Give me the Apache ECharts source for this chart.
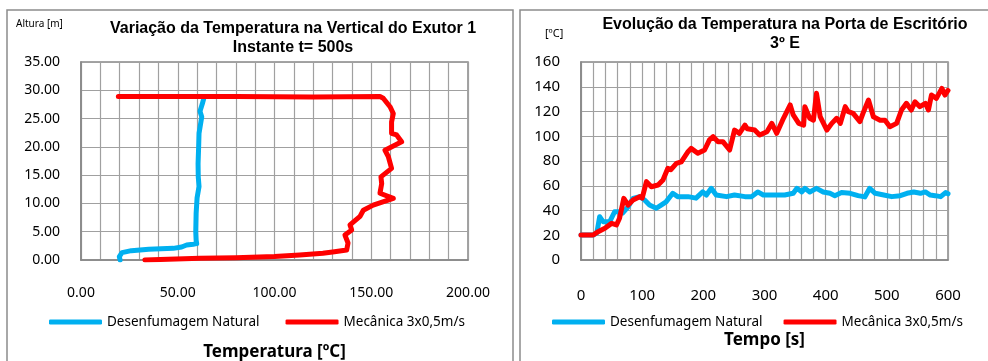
<!DOCTYPE html>
<html>
<head>
<meta charset="utf-8">
<script src="https://cdn.jsdelivr.net/npm/echarts@6/dist/echarts.min.js"></script>
<style>
  html, body { margin: 0; padding: 0; background: #fff; }
  #chart { width: 988px; height: 361px; }
</style>
</head>
<body>
<div id="chart"></div>
<script>
// Left chart: temperature profile along the height (t = 500s)
const naturalTemp = [20.2, 19.8, 21.2, 26, 35, 47.7, 52, 54.6, 58, 59.8, 59.5, 59.3, 59.5, 60, 61, 60.6, 60.5, 60.8, 61, 62.4, 61.5, 62.7, 63.7];
const naturalHeight = [0, 0.6, 1.3, 1.65, 1.9, 2.06, 2.3, 2.65, 2.8, 2.9, 3.5, 5, 8.3, 11, 13, 14.7, 17, 20, 22.4, 25.3, 26.3, 27.6, 28.9];
const mechTemp = [33, 45, 61.5, 80, 100, 113, 125, 131, 137.3, 138, 136.4, 139.9, 139, 144.2, 145.9, 151, 161.4, 154.5, 155.4, 155, 160.5, 158.8, 157.1, 165.7, 163.1, 160.5, 160.5, 161.4, 159.7, 156.2, 154.5, 120, 80, 40, 19.3];
const mechHeight = [0, 0.12, 0.3, 0.4, 0.6, 0.9, 1.2, 1.47, 1.77, 3.0, 4.4, 5.3, 6.2, 7.7, 8.8, 9.7, 10.9, 11.8, 13.5, 14.7, 16.2, 18.3, 19.4, 20.9, 22.1, 22.4, 24.4, 25.9, 27.1, 28.6, 28.9, 28.8, 28.9, 28.9, 28.9];

// Right chart: temperature at the office door over time
const naturalTime = [0, 20, 26, 30.5, 36, 47, 55, 60, 68, 77, 85, 96, 104, 112, 123, 131, 139, 150, 158, 175, 188, 199, 205, 213, 221, 238, 251, 268, 279, 289, 298, 314, 333, 347, 353, 361, 366, 374, 385, 396, 407, 415, 426, 440, 453, 464, 472, 481, 495, 508, 522, 533, 544, 555, 563, 571, 579, 588, 596, 600];
const naturalDoor = [20.2, 20.2, 22, 35, 31, 31, 39, 39, 38, 43, 49.8, 51.2, 48.5, 44.4, 41.8, 44.4, 47, 53.9, 51.2, 51.2, 50, 55, 52.5, 57.9, 52.5, 51.2, 52.5, 51.2, 51.2, 55, 52.5, 52.5, 52.5, 53.9, 57.9, 55, 57.9, 55, 57.9, 55, 53.9, 52, 54.5, 53.9, 52, 51, 57.9, 53.9, 52.5, 51.2, 52, 53.9, 55, 53.9, 55, 52.5, 52, 51.2, 54.5, 53.5];
const mechTime = [0, 20, 28, 39, 50, 58, 63, 70, 77, 85, 96, 100, 107, 115, 126, 134, 142, 147, 156, 164, 175, 180, 191, 202, 210, 216, 224, 232, 243, 251, 259, 268, 272, 284, 292, 304, 312, 320, 331, 342, 347, 356, 364, 366, 374, 380, 385, 391, 402, 410, 418, 424, 432, 437, 445, 456, 461, 470, 478, 489, 497, 505, 516, 524, 532, 540, 546, 554, 563, 568, 573, 581, 590, 595, 600];
const mechDoor = [20.2, 20.2, 22.9, 25.6, 29.6, 28.3, 33.7, 49.8, 44.4, 48.5, 51.2, 50, 63.3, 59.2, 60.6, 64.6, 74.1, 73, 78.1, 79.3, 87.5, 90.2, 86.2, 88.9, 97, 99.7, 95.6, 95.6, 88.9, 105, 102.3, 109, 106, 105, 101, 103.7, 110.4, 102.4, 114.5, 125.3, 117.2, 110.4, 109, 123.9, 114.5, 113, 134.7, 115.8, 105, 110.4, 114.5, 110.4, 123.9, 119.8, 118.5, 111.8, 118.5, 129.3, 115.8, 113, 113, 107.7, 110.4, 121.2, 126.6, 121.2, 127.9, 123.9, 126.6, 121.2, 133.3, 130.6, 138.7, 133.3, 137];

const seriesNames = ['Desenfumagem Natural', 'Mecânica 3x0,5m/s'];
const BLUE = '#00B0F0';
const RED = '#FF0000';
const GRID_LINE = '#a0a0a0';
const AXIS_LINE = '#868686';
const FONT = 'Noto Sans';

const zip = (xs, ys) => xs.map((x, i) => [x, ys[i]]);

function lineSeries(name, color, xi, yi, data) {
  return {
    name,
    type: 'line',
    xAxisIndex: xi,
    yAxisIndex: yi,
    data,
    symbol: 'none',
    color,
    lineStyle: { width: 5, color, cap: 'round', join: 'round' },
    z: 3,
  };
}

// gridlines every `step`, labels only every `labelStep`
function valueX(gridIndex, max, step, labelStep, fontSize, margin, decimals, name, nameGap) {
  return {
    type: 'value',
    gridIndex,
    min: 0, max, interval: step,
    name,
    nameLocation: 'middle',
    nameGap,
    nameTextStyle: { fontFamily: FONT, fontWeight: 'bold', fontSize: 17, color: '#000' },
    axisLine: { show: true, lineStyle: { color: AXIS_LINE, width: 1.5 } },
    axisTick: { show: false },
    axisLabel: {
      fontFamily: FONT, fontSize, color: '#000', margin,
      formatter: (v) => (Math.round(v) % labelStep === 0 ? v.toFixed(decimals) : ''),
    },
    splitLine: { show: true, lineStyle: { color: GRID_LINE, width: 1.2 } },
  };
}

function valueY(gridIndex, max, interval, fontSize, decimals) {
  return {
    type: 'value',
    gridIndex,
    min: 0, max, interval,
    axisLine: { show: true, lineStyle: { color: AXIS_LINE, width: 1.5 } },
    axisTick: { show: false },
    axisLabel: {
      fontFamily: FONT, fontSize, color: '#000', margin: 21,
      formatter: (v) => v.toFixed(decimals),
    },
    splitLine: { show: true, lineStyle: { color: GRID_LINE, width: 1.2 } },
  };
}

function legendAt(left, gap) {
  return {
    left, top: 315,
    padding: 0,
    data: seriesNames,
    icon: 'roundRect',
    itemWidth: 53,
    itemHeight: 5,
    itemGap: gap,
    textStyle: { fontFamily: FONT, fontSize: 13.5, color: '#000' },
  };
}

const titleStyle = { fontFamily: 'Liberation Sans', fontWeight: 'bold', fontSize: 16, lineHeight: 19, color: '#000' };

const chart = echarts.init(document.getElementById('chart'));
chart.setOption({
  animation: false,
  backgroundColor: '#fff',
  title: [
    {
      text: 'Variação da Temperatura na Vertical do Exutor 1\nInstante t= 500s',
      left: 293, top: 19.5, textAlign: 'center', padding: 0,
      textStyle: titleStyle,
    },
    {
      text: 'Evolução da Temperatura na Porta de Escritório\n3º E',
      left: 785, top: 15.5, textAlign: 'center', padding: 0,
      textStyle: titleStyle,
    },
  ],
  grid: [
    { left: 81, top: 62, width: 387, height: 198, show: true, borderColor: AXIS_LINE, borderWidth: 1.5, outerBoundsMode: 'none' },
    { left: 581, top: 62, width: 367, height: 198, show: true, borderColor: AXIS_LINE, borderWidth: 1.5, outerBoundsMode: 'none' },
  ],
  xAxis: [
    valueX(0, 200, 10, 50, 14, 26, 2, 'Temperatura [ºC]', 84),
    valueX(1, 600, 20, 100, 15, 28, 0, 'Tempo [s]', 72),
  ],
  yAxis: [
    valueY(0, 35, 5, 14, 2),
    valueY(1, 160, 20, 15, 0),
  ],
  legend: [legendAt(49, 26), legendAt(552, 21)],
  graphic: [
    { type: 'rect', shape: { x: 7, y: 10, width: 506, height: 370 }, style: { fill: 'none', stroke: '#8c8c8c', lineWidth: 1.5 }, silent: true },
    { type: 'rect', shape: { x: 520, y: 10, width: 480, height: 370 }, style: { fill: 'none', stroke: '#8c8c8c', lineWidth: 1.5 }, silent: true },
    { type: 'text', left: 16, top: 19, style: { text: 'Altura [m]', fontFamily: FONT, fontSize: 10, fill: '#000' } },
    { type: 'text', left: 545, top: 28, style: { text: '[ºC]', fontFamily: FONT, fontSize: 11, fill: '#000' } },
  ],
  series: [
    lineSeries(seriesNames[0], BLUE, 0, 0, zip(naturalTemp, naturalHeight)),
    lineSeries(seriesNames[1], RED, 0, 0, zip(mechTemp, mechHeight)),
    lineSeries(seriesNames[0], BLUE, 1, 1, zip(naturalTime, naturalDoor)),
    lineSeries(seriesNames[1], RED, 1, 1, zip(mechTime, mechDoor)),
  ],
});
</script>
</body>
</html>
